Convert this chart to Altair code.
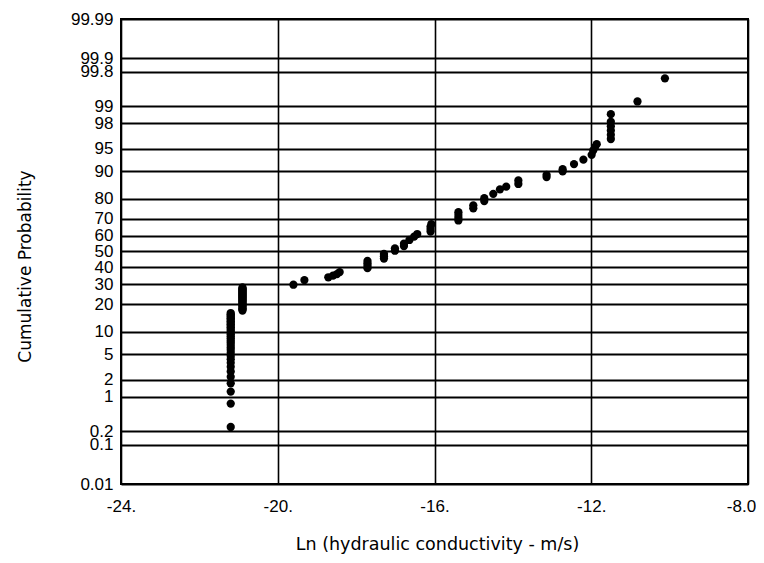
import altair as alt
import pandas as pd
from statistics import NormalDist

# ---- data ----
# ln(hydraulic conductivity, m/s) and cumulative probability (%)
col1_lnk = -21.2
col1_prob = [0.25, 0.75, 1.25, 1.75, 2.25, 2.75, 3.25, 3.75, 4.25, 4.75, 5.25,
             5.75, 6.25, 6.75, 7.25, 7.75, 8.25, 8.75, 9.25, 9.75, 10.25, 10.75,
             11.25, 11.75, 12.25, 12.75, 13.25, 13.75, 14.25, 14.75, 15.25,
             15.75, 16.25]
col2_lnk = -20.9
col2_prob = [17.25, 17.75, 18.25, 18.75, 19.25, 19.75, 20.25, 20.75, 21.25,
             21.75, 22.25, 22.75, 23.25, 23.75, 24.25, 24.75, 25.25, 25.75,
             26.25, 26.75, 27.25, 27.75, 28.25]
rest_lnk = [-19.60, -19.32, -18.71, -18.59, -18.49, -18.42,
            -17.71, -17.71, -17.71, -17.71,
            -17.29, -17.29, -17.29,
            -17.01, -17.01, -16.78, -16.78,
            -16.64, -16.52, -16.44,
            -16.10, -16.10, -16.10, -16.08,
            -15.39, -15.39, -15.39, -15.39,
            -15.01, -15.01, -14.73, -14.73,
            -14.50, -14.33, -14.17,
            -13.86, -13.86, -13.14, -13.14,
            -12.73, -12.73, -12.44, -12.20,
            -11.99, -11.95, -11.90, -11.86,
            -11.50, -11.50, -11.50, -11.50, -11.50, -11.50,
            -10.82, -10.12]
rest_prob = [29.75, 32.4, 34.0, 35.0, 35.9, 37.1,
             39.5, 41.0, 42.5, 44.0,
             45.5, 47.0, 48.5,
             50.5, 52.0, 53.5, 55.0,
             57.3, 59.4, 61.0,
             62.5, 64.0, 65.5, 67.0,
             69.0, 70.5, 72.0, 73.5,
             75.5, 77.0, 79.0, 80.3,
             82.2, 84.0, 85.0,
             86.0, 87.2, 88.3, 89.0,
             90.0, 90.6, 91.9, 92.9,
             93.9, 94.7, 95.3, 95.7,
             96.4, 96.9, 97.35, 97.75, 98.1, 98.6,
             99.18, 99.72]

prob_ticks = ["0.01", "0.1", "0.2", "1", "2", "5", "10", "20", "30", "40", "50",
              "60", "70", "80", "90", "95", "98", "99", "99.8", "99.9", "99.99"]
x_ticks = [-24, -20, -16, -12, -8]

# ---- build table (probability axis = normal quantile) ----
nd = NormalDist()
lnk = [col1_lnk] * len(col1_prob) + [col2_lnk] * len(col2_prob) + rest_lnk
prob = col1_prob + col2_prob + rest_prob
df = pd.DataFrame({"lnk": lnk, "prob": prob})
df["z"] = [nd.inv_cdf(p / 100.0) for p in prob]

tick_z = [nd.inv_cdf(float(t) / 100.0) for t in prob_ticks]
zmin, zmax = tick_z[0], tick_z[-1]

expr = ""
for i in range(len(prob_ticks) - 1):
    mid = (tick_z[i] + tick_z[i + 1]) / 2
    expr += f"datum.value < {mid:.5f} ? '{prob_ticks[i]}' : "
expr += f"'{prob_ticks[-1]}'"

LFONT = "Arial"
TFONT = "DejaVu Sans"

chart = alt.Chart(df).mark_circle(size=68, color="black", opacity=1).encode(
    x=alt.X("lnk:Q",
            scale=alt.Scale(domain=[-24, -8], nice=False, zero=False),
            axis=alt.Axis(values=x_ticks,
                          labelExpr="datum.value == -8 ? '-8.0' : datum.value + '.'",
                          labelOffset={"condition": {"test": "datum.value == -8", "value": -7},
                                       "value": 0},
                          title="Ln (hydraulic conductivity - m/s)",
                          grid=True, gridColor="black", gridWidth=1.6, gridOpacity=1,
                          domain=False, ticks=False, tickSize=0,
                          labelPadding=14, labelFlush=False, labelOverlap=False,
                          labelFont=LFONT, labelFontSize=17, labelColor="black",
                          titleFont=TFONT, titleFontSize=17.5,
                          titleFontWeight="normal", titleColor="black",
                          titleX=316, titleY=60, titleBaseline="middle")),
    y=alt.Y("z:Q",
            scale=alt.Scale(domain=[zmin, zmax], nice=False, zero=False),
            axis=alt.Axis(values=tick_z, labelExpr=expr,
                          title="Cumulative Probability",
                          grid=True, gridColor="black", gridWidth=2, gridOpacity=1,
                          domain=False, ticks=False, tickSize=0,
                          labelPadding=8, labelFlush=False, labelOverlap=False,
                          labelBound=False,
                          labelFont=LFONT, labelFontSize=17, labelColor="black",
                          titleFont=TFONT, titleFontSize=17,
                          titleFontWeight="normal", titleColor="black",
                          titleAngle=-90, titleX=-96, titleY=247,
                          titleAlign="center", titleBaseline="middle")),
).properties(
    width=627, height=465,
    autosize=alt.AutoSizeParams(type="none"),
    padding={"left": 113, "top": 11, "right": 8, "bottom": 71},
    background="white",
).configure_view(stroke="black", strokeWidth=2)

chart.save("out.html", embed_options={"renderer": "svg", "actions": False})
